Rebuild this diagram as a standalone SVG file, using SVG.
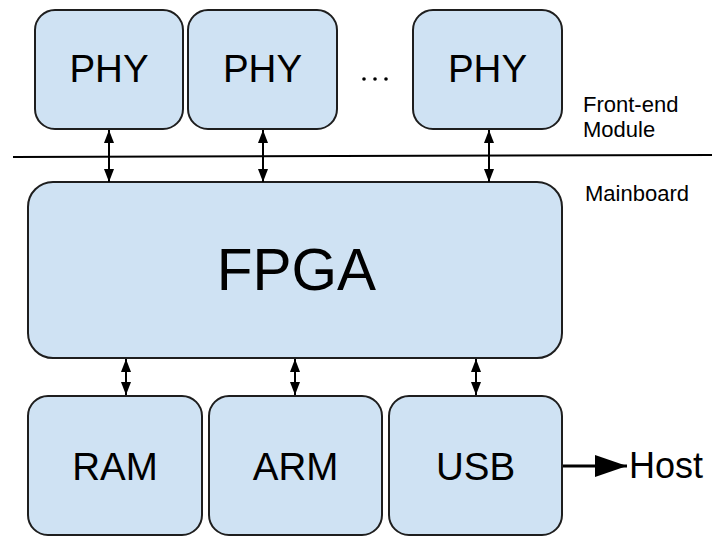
<svg xmlns="http://www.w3.org/2000/svg" width="712" height="537" viewBox="0 0 712 537">
<defs>
<style>
.box{fill:#cfe2f3;stroke:#1e1e1e;stroke-width:2}
.lbl{font-family:"Liberation Sans",Arial,sans-serif;fill:#000;text-anchor:middle}
.big{font-size:38.5px}
.note{font-family:"Liberation Sans",Arial,sans-serif;fill:#000;font-size:22px}
.conn{stroke:#000;stroke-width:2;fill:none}
</style>
<marker id="ah" markerUnits="userSpaceOnUse" viewBox="0 0 13 10" refX="13" refY="5" markerWidth="13" markerHeight="10" orient="auto-start-reverse">
<path d="M0,0 L13,5 L0,10 Z" fill="#000"/>
</marker>
<marker id="ahBig" markerUnits="userSpaceOnUse" viewBox="0 0 32 22" refX="32" refY="11" markerWidth="32" markerHeight="22" orient="auto">
<path d="M0,0 L32,11 L0,22 Z" fill="#000"/>
</marker>
</defs>
<rect width="712" height="537" fill="#fff"/>
<g id="divider">
<line x1="13" y1="157" x2="712" y2="155" stroke="#000" stroke-width="2"/>
</g>
<g id="phy1"><rect class="box" x="35" y="10" width="148" height="119" rx="20"/><text class="lbl big" x="109" y="82">PHY</text></g>
<g id="phy2"><rect class="box" x="188" y="10" width="149" height="119" rx="20"/><text class="lbl big" x="262.5" y="82">PHY</text></g>
<g id="ellipsis"><circle cx="364" cy="79" r="1.8"/><circle cx="375" cy="79" r="1.8"/><circle cx="386" cy="79" r="1.8"/></g>
<g id="phy3"><rect class="box" x="413" y="10" width="149" height="119" rx="20"/><text class="lbl big" x="487.5" y="82">PHY</text></g>
<g id="fpga"><rect class="box" x="28" y="182" width="534" height="176" rx="25"/><text class="lbl" style="font-size:58.5px" x="296.5" y="290">FPGA</text></g>
<g id="ram"><rect class="box" x="28" y="396" width="174" height="139" rx="20"/><text class="lbl big" x="115" y="480">RAM</text></g>
<g id="arm"><rect class="box" x="209" y="396" width="173" height="139" rx="20"/><text class="lbl big" x="295.5" y="480">ARM</text></g>
<g id="usb"><rect class="box" x="389" y="396" width="173" height="139" rx="20"/><text class="lbl big" x="475.5" y="480">USB</text></g>
<g id="labels">
<text class="note" x="583" y="112">Front-end</text>
<text class="note" x="583" y="137">Module</text>
<text class="note" x="585" y="201">Mainboard</text>
<text class="note" style="font-size:36px" x="629" y="478">Host</text>
</g>
<g id="connectors">
<line class="conn" x1="109" y1="130" x2="109" y2="182" marker-start="url(#ah)" marker-end="url(#ah)"/>
<line class="conn" x1="263" y1="130" x2="263" y2="182" marker-start="url(#ah)" marker-end="url(#ah)"/>
<line class="conn" x1="489" y1="130" x2="489" y2="182" marker-start="url(#ah)" marker-end="url(#ah)"/>
<line class="conn" x1="126" y1="359" x2="126" y2="395" marker-start="url(#ah)" marker-end="url(#ah)"/>
<line class="conn" x1="295" y1="359" x2="295" y2="395" marker-start="url(#ah)" marker-end="url(#ah)"/>
<line class="conn" x1="476" y1="359" x2="476" y2="395" marker-start="url(#ah)" marker-end="url(#ah)"/>
<line class="conn" style="stroke-width:3" x1="563" y1="466" x2="627" y2="466" marker-end="url(#ahBig)"/>
</g>
</svg>
